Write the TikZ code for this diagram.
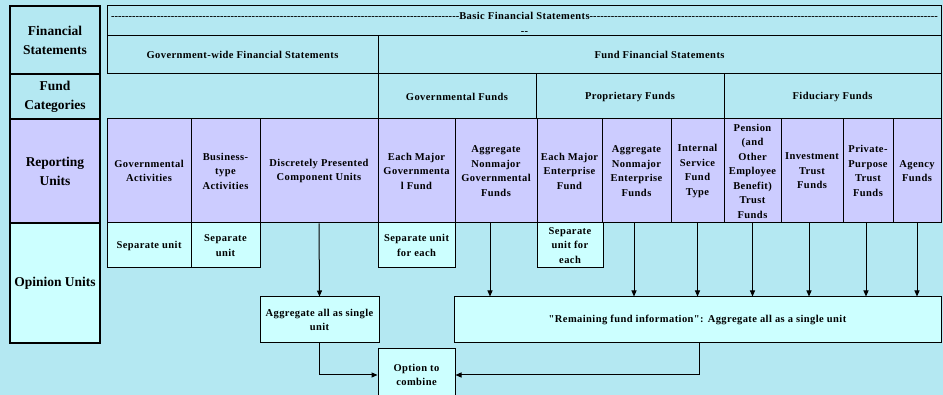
\documentclass[tikz,border=0pt]{standalone}
\usepackage{fontspec}
\setmainfont[Ligatures=TeXOff]{Liberation Serif}
\newfontfamily\cellfont[LetterSpace=4, Ligatures=TeXOff]{Liberation Serif}
\usetikzlibrary{arrows.meta}
\definecolor{bgc}{RGB}{180,232,242}
\definecolor{lav}{RGB}{204,204,255}
\definecolor{lcy}{RGB}{204,255,255}
\tikzset{
  cell/.style={draw, line width=1pt, align=center, inner sep=0pt, anchor=center,
    font=\cellfont\bfseries\fontsize{10.5}{14.5}\selectfont},
  headcell/.style={cell, line width=1.4pt, font=\rmfamily\bfseries\fontsize{13.5}{19}\selectfont},
  arr/.style={line width=1pt, -{Triangle[length=6pt,width=5pt]}},
}
\begin{document}
\begin{tikzpicture}[x=1pt,y=-1pt]
\useasboundingbox (0,0) rectangle (943,395);
\fill[bgc] (0,0) rectangle (943,395);
\clip (0,0) rectangle (943,395);
% left header column
\node[headcell, fill=bgc, minimum width=90pt, minimum height=68pt] (lfs) at (55,40) {Financial\\Statements};
\node[headcell, fill=bgc, minimum width=90pt, minimum height=45pt] (lfc) at (55,96.5) {Fund\\Categories};
\node[headcell, fill=lav, minimum width=90pt, minimum height=104pt] (lru) at (55,171) {Reporting\\Units};
\node[headcell, fill=lcy, minimum width=90pt, minimum height=120pt] (lou) at (55,283) {Opinion Units};
% top rows
\node[cell, fill=bgc, minimum width=834pt, minimum height=30pt] (basic) at (524,21) {};
\node[cell, draw=none, font=\cellfont\bfseries\fontsize{10.5}{15}\selectfont] (basictxt) at (524.5,23.5)
  {\hbox to 827pt{\xleaders\hbox{-}\hfill Basic Financial Statements\xleaders\hbox{-}\hfill}\\--};
\node[cell, fill=bgc, minimum width=271pt, minimum height=38pt] (gw) at (242.5,55) {Government-wide Financial Statements};
\node[cell, fill=bgc, minimum width=563pt, minimum height=38pt] (ffs) at (659.5,55) {Fund Financial Statements};
\node[cell, fill=bgc, minimum width=158pt, minimum height=45pt] (gf) at (457,96.5) {Governmental Funds};
\node[cell, fill=bgc, minimum width=188pt, minimum height=45pt] (pf) at (630,96.5) {Proprietary Funds};
\node[cell, fill=bgc, minimum width=217pt, minimum height=45pt] (ff) at (832.5,96.5) {Fiduciary Funds};
% reporting units row
\begin{scope}[every node/.append style={cell, fill=lav, minimum height=104pt}]
\node[minimum width=84pt] (ga) at (149,171) {Governmental\\Activities};
\node[minimum width=69pt] (bt) at (225.5,171) {Business-\\type\\Activities};
\node[minimum width=118pt] (dp) at (319,171) {Discretely Presented\\Component Units};
\node[minimum width=77pt] (emg) at (416.5,171) {Each Major\\Governmenta\\l Fund};
\node[minimum width=82pt] (ang) at (496,171) {Aggregate\\Nonmajor\\Governmental\\Funds};
\node[minimum width=65pt] (eme) at (569.5,171) {Each Major\\Enterprise\\Fund};
\node[minimum width=69pt] (ane) at (636.5,171) {Aggregate\\Nonmajor\\Enterprise\\Funds};
\node[minimum width=53pt] (isf) at (697.5,171) {Internal\\Service\\Fund\\Type};
\node[minimum width=57pt] (pen) at (752.5,171) {Pension\\(and\\Other\\Employee\\Benefit)\\Trust\\Funds};
\node[minimum width=62pt] (inv) at (812,171) {Investment\\Trust\\Funds};
\node[minimum width=50pt] (ppt) at (868,171) {Private-\\Purpose\\Trust\\Funds};
\node[minimum width=48pt] (agf) at (917,171) {Agency\\Funds};
\end{scope}
% opinion units
\begin{scope}[every node/.append style={cell, fill=lcy}]
\node[minimum width=84pt, minimum height=45pt] (su1) at (149,245.5) {Separate unit};
\node[minimum width=69pt, minimum height=45pt] (su2) at (225.5,245.5) {Separate\\unit};
\node[minimum width=77pt, minimum height=45pt] (su3) at (416.5,245.5) {Separate unit\\for each};
\node[minimum width=66pt, minimum height=45pt] (su4) at (570,245.5) {Separate\\unit for\\each};
\node[minimum width=119pt, minimum height=46pt] (agg) at (319.5,320) {Aggregate all as single\\unit};
\node[minimum width=487pt, minimum height=46pt] (rem) at (697.5,320) {"Remaining fund information": Aggregate all as a single unit};
\node[minimum width=77pt, minimum height=52pt] (opt) at (416.5,375) {Option to\\combine};
\end{scope}
% connectors
\draw[arr] (dp.south) -- (agg.north);
\draw[arr] ([xshift=-6pt]ang.south) -- ([xshift=-6pt]ang.south |- rem.north);
\draw[arr] ([xshift=-2.5pt]ane.south) -- ([xshift=-2.5pt]ane.south |- rem.north);
\draw[arr] (isf.south) -- (isf.south |- rem.north);
\draw[arr] (pen.south) -- (pen.south |- rem.north);
\draw[arr] ([xshift=-3pt]inv.south) -- ([xshift=-3pt]inv.south |- rem.north);
\draw[arr] ([xshift=-2pt]ppt.south) -- ([xshift=-2pt]ppt.south |- rem.north);
\draw[arr] (agf.south) -- (agf.south |- rem.north);
\draw[arr] (agg.south) |- (opt.west);
\draw[arr] ([xshift=1.5pt]rem.south) |- (opt.east);
\end{tikzpicture}
\end{document}
